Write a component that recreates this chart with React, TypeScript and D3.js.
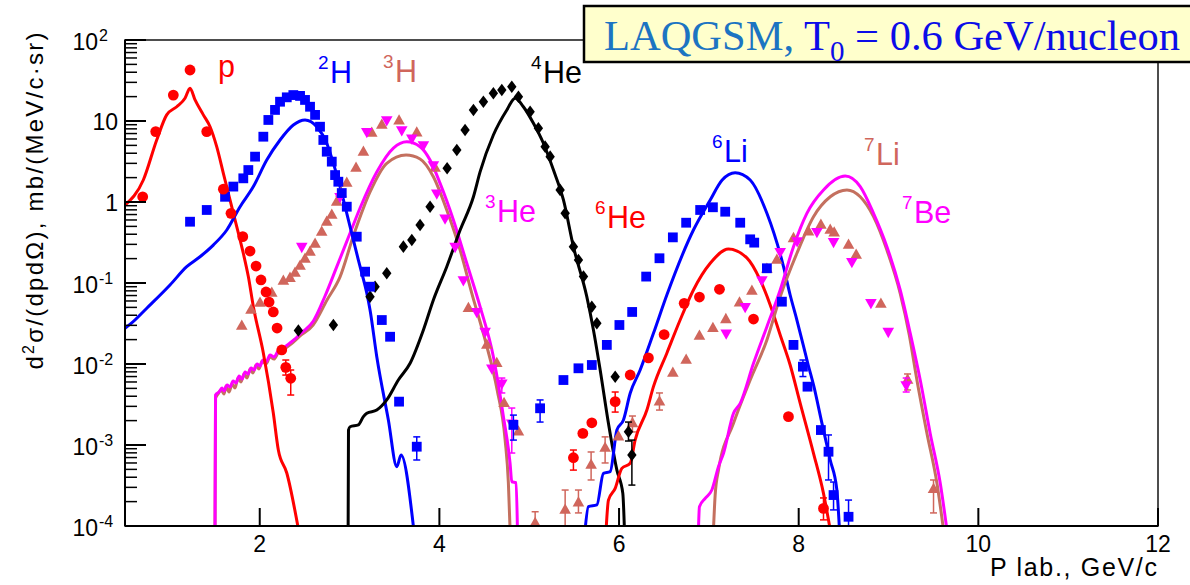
import React from 'react';
import * as d3 from 'd3';

type Pt = [number, number];
type Err = [number, number, number];

// ---- measured spectra: [P lab (GeV/c), d2sigma/dp dOmega (mb/(MeV/c sr))] ----
const protonData: Pt[] = [
  [0.697, 1.16], [0.842, 7.4], [1.038, 20.9], [1.224, 42.6], [1.41, 7.4], [1.595, 1.44],
  [1.68, 0.725], [1.811, 0.373], [1.892, 0.248], [1.959, 0.162], [2.014, 0.109], [2.07, 0.0774],
  [2.104, 0.0582], [2.151, 0.0439], [2.193, 0.0278], [2.245, 0.0149], [2.29, 0.0091], [2.345, 0.00666],
];
const protonErr: Err[] = [[2.29, 0.0073, 0.0112], [2.345, 0.00414, 0.00843]];

const deuteronData: Pt[] = [
  [1.224, 0.571], [1.41, 0.797], [1.614, 1.16], [1.706, 1.55], [1.817, 1.96], [1.873, 2.48],
  [1.948, 3.63], [2.04, 6.4], [2.096, 10.3], [2.17, 13.7], [2.226, 17.3], [2.301, 19.6],
  [2.374, 20.9], [2.449, 20.4], [2.504, 18.2], [2.56, 15.0], [2.616, 11.9], [2.671, 8.5],
  [2.708, 5.83], [2.746, 4.18], [2.802, 3.15], [2.839, 2.15], [2.875, 1.78], [2.913, 1.29],
  [2.969, 0.875], [3.08, 0.373], [3.173, 0.138], [3.228, 0.09], [3.359, 0.0349], [3.451, 0.0217],
  [3.551, 0.00343], [3.748, 0.000953],
];
const deuteronErr: Err[] = [[3.748, 0.000653, 0.00126]];

const tritonData: Pt[] = [
  [1.8, 0.0294], [1.903, 0.0464], [2.003, 0.0566], [2.134, 0.0753], [2.263, 0.106], [2.337, 0.115],
  [2.393, 0.133], [2.449, 0.162], [2.504, 0.198], [2.56, 0.241], [2.616, 0.303], [2.69, 0.426],
  [2.746, 0.567], [2.802, 0.691], [2.857, 1.0], [2.905, 1.29], [2.969, 1.72], [3.072, 2.63],
  [3.154, 4.14], [3.247, 7.11], [3.359, 8.93], [3.551, 10.1], [3.748, 7.17], [3.952, 2.63],
  [4.323, 0.0487], [4.528, 0.0172], [4.639, 0.0102], [4.72, 0.00327], [4.88, 0.00146], [5.066, 0.000108],
];
const tritonErr: Err[] = [[5.066, 0.0001, 0.00015]];

const helium3Data: Pt[] = [
  [2.468, 0.281], [2.894, 1.16], [3.192, 7.38], [3.414, 10.3], [3.581, 7.74], [3.693, 6.11],
  [3.822, 5.05], [3.933, 2.86], [3.971, 1.28], [4.063, 0.629], [4.175, 0.281], [4.267, 0.109],
  [4.416, 0.0442], [4.509, 0.0251], [4.584, 0.00885], [4.695, 0.00578], [4.806, 0.00185],
];
const helium3Err: Err[] = [[4.695, 0.00439, 0.00671], [4.806, 0.000796, 0.00286]];

const helium4Data: Pt[] = [
  [2.43, 0.0259], [2.82, 0.0303], [3.228, 0.0678], [3.284, 0.09], [3.414, 0.132], [3.599, 0.281],
  [3.693, 0.34], [3.785, 0.52], [3.896, 0.875], [4.086, 2.61], [4.194, 4.39], [4.286, 7.74],
  [4.379, 13.7], [4.49, 17.3], [4.601, 22.0], [4.695, 24.1], [4.806, 26.5], [4.88, 19.9],
  [5.01, 13.0], [5.102, 8.13], [5.177, 4.82], [5.233, 3.63], [5.344, 1.41], [5.4, 0.725],
  [5.492, 0.281], [5.548, 0.192], [5.604, 0.12], [5.697, 0.051], [5.753, 0.0318], [5.957, 0.00697],
  [6.105, 0.00146], [6.143, 0.000753],
];
const helium4Err: Err[] = [[6.105, 0.00112, 0.00192], [6.143, 0.00032, 0.00115]];

const helium6Data: Pt[] = [
  [5.492, 0.000697], [5.597, 0.00139], [5.697, 0.00188], [5.957, 0.00343], [6.124, 0.00731],
  [6.327, 0.0119], [6.502, 0.0231], [6.725, 0.0561], [6.895, 0.0671], [7.118, 0.0836],
  [7.497, 0.0359], [7.886, 0.00224], [8.276, 0.000165],
];
const helium6Err: Err[] = [[5.492, 0.00049, 0.000867], [5.957, 0.00255, 0.00451], [8.276, 0.000119, 0.000222]];

const lithium6Data: Pt[] = [
  [4.824, 0.00177], [5.121, 0.00284], [5.381, 0.00634], [5.548, 0.00885], [5.697, 0.00972],
  [5.864, 0.0172], [6.004, 0.0303], [6.146, 0.0439], [6.302, 0.12], [6.45, 0.202], [6.599, 0.366],
  [6.747, 0.555], [6.903, 0.797], [7.045, 0.861], [7.182, 0.759], [7.349, 0.555], [7.46, 0.346],
  [7.505, 0.315], [7.646, 0.152], [7.813, 0.0588], [7.942, 0.0172], [8.047, 0.00927], [8.098, 0.00525],
  [8.247, 0.00153], [8.332, 0.000826], [8.388, 0.000241], [8.555, 0.00013],
];
const lithium6Err: Err[] = [
  [4.824, 0.00115, 0.00234], [5.121, 0.00192, 0.0036], [8.047, 0.007, 0.0112],
  [8.332, 0.00037, 0.00133], [8.388, 0.000158, 0.000349], [8.555, 0.0001, 0.000209],
];

const lithium7Data: Pt[] = [
  [5.4, 0.000158], [5.548, 0.000194], [5.689, 0.000566], [5.845, 0.000918], [5.993, 0.00127],
  [6.149, 0.00185], [6.45, 0.00343], [6.599, 0.00774], [6.747, 0.0112], [6.895, 0.0222],
  [7.045, 0.0276], [7.189, 0.0356], [7.341, 0.0571], [7.479, 0.0796], [7.646, 0.149], [7.757, 0.192],
  [7.942, 0.356], [8.109, 0.43], [8.247, 0.52], [8.351, 0.451], [8.395, 0.418], [8.555, 0.294],
  [8.64, 0.222], [8.915, 0.0551], [9.212, 0.00634], [9.501, 0.000284],
];
const lithium7Err: Err[] = [
  [5.4, 0.0001, 0.000278], [5.548, 0.000145, 0.000278], [5.689, 0.00037, 0.00082],
  [5.845, 0.0006, 0.00126], [6.149, 0.00145, 0.00228], [6.45, 0.0027, 0.00439],
  [9.212, 0.00478, 0.00753], [9.501, 0.000145, 0.00037],
];

const beryllium7Data: Pt[] = [
  [7.193, 0.0239], [7.404, 0.051], [7.59, 0.109], [7.794, 0.243], [7.983, 0.33], [8.203, 0.43],
  [8.388, 0.323], [8.592, 0.183], [8.804, 0.0571], [8.997, 0.0251], [9.197, 0.00551],
];
const beryllium7Err: Err[] = [[9.197, 0.00451, 0.00671]];

// ---- LAQGSM model curves ----
const protonCurve: Pt[] = [
  [0.5, 0.918], [0.704, 1.87], [0.853, 5.83], [0.964, 11.9], [1.076, 15.0], [1.168, 19.1],
  [1.224, 25.3], [1.28, 18.2], [1.372, 11.9], [1.447, 8.5], [1.521, 4.82], [1.595, 2.26],
  [1.669, 1.06], [1.744, 0.496], [1.817, 0.233], [1.873, 0.12], [1.929, 0.051], [2.04, 0.0137],
  [2.151, 0.00248], [2.207, 0.000867], [2.301, 0.000451], [2.44, 0.00008],
];
const deuteronCurve: Pt[] = [
  [0.5, 0.0276], [0.575, 0.0321], [0.745, 0.0491], [1.001, 0.0944], [1.187, 0.159], [1.335, 0.211],
  [1.483, 0.294], [1.633, 0.451], [1.781, 0.875], [1.929, 1.55], [2.078, 3.3], [2.226, 5.83],
  [2.374, 8.93], [2.504, 10.3], [2.635, 8.5], [2.746, 5.31], [2.82, 3.0], [2.894, 1.55],
  [2.969, 0.725], [3.042, 0.34], [3.117, 0.159], [3.192, 0.0746], [3.228, 0.0464], [3.303, 0.0123],
  [3.432, 0.00204], [3.526, 0.00054], [3.573, 0.000753], [3.711, 0.000098],
];
const tritonCurve: Pt[] = [
  [1.502, 0.00009], [1.508, 0.0038], [1.536, 0.00427], [1.569, 0.00478], [1.602, 0.00427],
  [1.625, 0.00535], [1.658, 0.00451], [1.692, 0.00566], [1.725, 0.00506], [1.758, 0.00671],
  [1.792, 0.006], [1.825, 0.00753], [1.859, 0.00671], [1.892, 0.00867], [1.925, 0.00774],
  [1.959, 0.00972], [1.992, 0.00867], [2.026, 0.0109], [2.07, 0.01], [2.115, 0.0122],
  [2.159, 0.0115], [2.204, 0.0137], [2.259, 0.0149], [2.337, 0.0172], [2.449, 0.0222],
  [2.594, 0.0303], [2.749, 0.0617], [2.894, 0.119], [3.042, 0.38], [3.228, 1.33], [3.414, 3.0],
  [3.629, 3.8], [3.785, 3.4], [3.933, 2.05], [4.082, 0.797], [4.231, 0.255], [4.361, 0.0746],
  [4.509, 0.0198], [4.643, 0.00478], [4.732, 0.00115], [4.768, 0.00034], [4.787, 0.00009],
];
const helium3Curve: Pt[] = [
  [1.502, 0.00009], [1.508, 0.00414], [1.547, 0.00451], [1.58, 0.00506], [1.602, 0.00464],
  [1.636, 0.00551], [1.669, 0.0052], [1.703, 0.00617], [1.736, 0.00582], [1.77, 0.00711],
  [1.803, 0.00653], [1.836, 0.00796], [1.87, 0.00753], [1.903, 0.00893], [1.937, 0.00843],
  [1.97, 0.01], [2.003, 0.00944], [2.037, 0.0112], [2.07, 0.0106], [2.115, 0.0129], [2.159, 0.0122],
  [2.204, 0.0145], [2.248, 0.0153], [2.293, 0.0167], [2.337, 0.0182], [2.393, 0.0204],
  [2.449, 0.0235], [2.504, 0.0263], [2.597, 0.034], [2.727, 0.0691], [2.857, 0.158], [3.006, 0.414],
  [3.117, 0.843], [3.303, 2.35], [3.488, 4.64], [3.637, 5.55], [3.785, 4.82], [3.896, 3.3],
  [4.008, 1.7], [4.156, 0.6], [4.305, 0.175], [4.453, 0.051], [4.601, 0.0123], [4.713, 0.00224],
  [4.787, 0.000594], [4.806, 0.000352], [4.854, 0.000344], [4.869, 0.00009],
];
const helium4Curve: Pt[] = [
  [2.984, 0.00009], [2.988, 0.00153], [3.006, 0.00168], [3.098, 0.00177], [3.154, 0.00224],
  [3.192, 0.00246], [3.303, 0.0027], [3.414, 0.0036], [3.543, 0.00634], [3.674, 0.0102],
  [3.822, 0.0263], [3.933, 0.0617], [4.082, 0.159], [4.231, 0.451], [4.379, 1.16], [4.453, 2.35],
  [4.601, 6.72], [4.751, 13.7], [4.843, 19.1], [4.935, 15.0], [5.047, 9.37], [5.158, 5.31],
  [5.27, 2.48], [5.381, 1.06], [5.492, 0.281], [5.641, 0.0678], [5.715, 0.0263], [5.79, 0.00843],
  [5.882, 0.00185], [5.976, 0.00049], [6.042, 0.000253], [6.06, 0.00009],
];
const helium6Curve: Pt[] = [
  [5.856, 0.00009], [5.882, 0.000209], [5.957, 0.000292], [6.031, 0.000515], [6.124, 0.000594],
  [6.179, 0.00115], [6.31, 0.0027], [6.383, 0.00525], [6.532, 0.0136], [6.68, 0.0349],
  [6.828, 0.082], [7.015, 0.175], [7.218, 0.263], [7.423, 0.204], [7.571, 0.109], [7.683, 0.0535],
  [7.794, 0.0228], [7.905, 0.00972], [8.017, 0.00327], [8.165, 0.00079], [8.276, 0.000253],
  [8.351, 0.00009],
];
const lithium6Curve: Pt[] = [
  [5.622, 0.00009], [5.659, 0.000173], [5.753, 0.000182], [5.826, 0.000447], [5.901, 0.000469],
  [5.976, 0.00153], [6.049, 0.00204], [6.124, 0.00435], [6.235, 0.00843], [6.383, 0.0239],
  [6.532, 0.0711], [6.828, 0.451], [7.015, 1.06], [7.148, 1.87], [7.293, 2.3], [7.46, 1.87],
  [7.646, 0.725], [7.831, 0.159], [7.905, 0.0711], [7.98, 0.0349], [8.05, 0.0172], [8.106, 0.00972],
  [8.165, 0.00551], [8.259, 0.00185], [8.351, 0.000653], [8.425, 0.000278], [8.454, 0.00009],
];
const lithium7Curve: Pt[] = [
  [7.051, 0.00009], [7.07, 0.000241], [7.107, 0.00049], [7.274, 0.00185], [7.46, 0.00634],
  [7.646, 0.0198], [7.794, 0.0678], [7.98, 0.233], [8.165, 0.659], [8.351, 1.16], [8.537, 1.41],
  [8.685, 1.16], [8.833, 0.659], [8.982, 0.255], [9.13, 0.0746], [9.231, 0.0228], [9.316, 0.00634],
  [9.428, 0.00139], [9.539, 0.000337], [9.612, 0.00009],
];
const beryllium7Curve: Pt[] = [
  [6.884, 0.00009], [6.895, 0.000173], [6.959, 0.00022], [7.033, 0.000278], [7.107, 0.00054],
  [7.163, 0.00079], [7.274, 0.00246], [7.349, 0.00327], [7.497, 0.0102], [7.646, 0.0289],
  [7.794, 0.082], [7.942, 0.281], [8.091, 0.725], [8.276, 1.41], [8.518, 2.09], [8.685, 1.55],
  [8.833, 0.725], [8.982, 0.281], [9.13, 0.082], [9.242, 0.0239], [9.353, 0.00634], [9.464, 0.00139],
  [9.576, 0.000337], [9.65, 0.00009],
];

// ---- axes ----
const xTicks = [2, 4, 6, 8, 10, 12];
const yDecades = [-4, -3, -2, -1, 0, 1, 2];

const RED = '#ff0000';
const BLUE = '#0000ff';
const MAGENTA = '#ff00ff';
const BLACK = '#000000';
const SALMON = '#d0665c';
const BROWN = '#c4705f';

const SANS = 'Liberation Sans, Arial, Helvetica, sans-serif';
const SERIF = 'Liberation Serif, Times New Roman, serif';

const frame = { left: 125, right: 1158, top: 40, bottom: 526 };
const x = d3.scaleLinear().domain([0.5, 12]).range([frame.left, frame.right]);
const y = d3.scaleLog().domain([1e-4, 100]).range([frame.bottom, frame.top]);

const lineGen = d3
  .line<Pt>()
  .x((d) => x(d[0]))
  .y((d) => y(d[1]))
  .curve(d3.curveMonotoneX);

type Marker = 'circle' | 'square' | 'up' | 'down' | 'diamond';

function markerPath(kind: Marker): string {
  switch (kind) {
    case 'up':
      return 'M0,-6.5L5.8,3.8L-5.8,3.8Z';
    case 'down':
      return 'M0,6.5L5.8,-3.8L-5.8,-3.8Z';
    case 'diamond':
      return 'M0,-6.3L4.7,0L0,6.3L-4.7,0Z';
    case 'square':
      return 'M-4.9,-4.9H4.9V4.9H-4.9Z';
    default:
      return '';
  }
}

const Points: React.FC<{ data: Pt[]; err: Err[]; kind: Marker; color: string }> = ({ data, err, kind, color }) => (
  <g>
    {err.map((e, i) => {
      const cx = x(e[0]);
      const y0 = Math.min(y(e[1]), frame.bottom);
      const y1 = y(e[2]);
      return (
        <g key={`e${i}`} stroke={color} strokeWidth={1.5}>
          <line x1={cx} x2={cx} y1={y0} y2={y1} />
          <line x1={cx - 3.5} x2={cx + 3.5} y1={y0} y2={y0} />
          <line x1={cx - 3.5} x2={cx + 3.5} y1={y1} y2={y1} />
        </g>
      );
    })}
    {data.map((d, i) =>
      kind === 'circle' ? (
        <circle key={i} cx={x(d[0])} cy={y(d[1])} r={5.4} fill={color} />
      ) : (
        <path key={i} transform={`translate(${x(d[0])},${y(d[1])})`} d={markerPath(kind)} fill={color} />
      )
    )}
  </g>
);

const curves: { data: Pt[]; color: string }[] = [
  { data: tritonCurve, color: BROWN },
  { data: helium3Curve, color: MAGENTA },
  { data: protonCurve, color: RED },
  { data: deuteronCurve, color: BLUE },
  { data: helium4Curve, color: BLACK },
  { data: helium6Curve, color: RED },
  { data: lithium6Curve, color: BLUE },
  { data: lithium7Curve, color: BROWN },
  { data: beryllium7Curve, color: MAGENTA },
];

const species: { sup: string; name: string; x: number; y: number; color: string }[] = [
  { sup: '', name: 'p', x: 218, y: 77, color: RED },
  { sup: '2', name: 'H', x: 318, y: 83, color: BLUE },
  { sup: '3', name: 'H', x: 383, y: 82, color: SALMON },
  { sup: '4', name: 'He', x: 531, y: 83, color: BLACK },
  { sup: '3', name: 'He', x: 485, y: 222, color: MAGENTA },
  { sup: '6', name: 'He', x: 595, y: 228, color: RED },
  { sup: '6', name: 'Li', x: 712, y: 162, color: BLUE },
  { sup: '7', name: 'Li', x: 864, y: 165, color: SALMON },
  { sup: '7', name: 'Be', x: 902, y: 223, color: MAGENTA },
];

export default function App() {
  const minorTicks: number[] = [];
  for (let k = -4; k < 2; k++) for (let m = 2; m <= 9; m++) minorTicks.push(m * Math.pow(10, k));

  return (
    <div style={{ position: 'absolute', left: 0, top: 0 }}>
      <svg width={1190} height={585} viewBox="0 0 1190 585" style={{ display: 'block', background: '#fff' }}>
        <defs>
          <clipPath id="plotArea">
            <rect x={frame.left} y={frame.top} width={frame.right - frame.left} height={frame.bottom - frame.top} />
          </clipPath>
        </defs>

        {/* frame */}
        <rect
          x={frame.left}
          y={frame.top}
          width={frame.right - frame.left}
          height={frame.bottom - frame.top}
          fill="none"
          stroke="#222"
          strokeWidth={1.6}
        />

        {/* model curves */}
        <g clipPath="url(#plotArea)" fill="none" strokeWidth={3} strokeLinejoin="round">
          {curves.map((c, i) => (
            <path key={i} d={lineGen(c.data) ?? ''} stroke={c.color} />
          ))}
        </g>

        {/* measured points */}
        <Points data={tritonData} err={tritonErr} kind="up" color={SALMON} />
        <Points data={lithium7Data} err={lithium7Err} kind="up" color={SALMON} />
        <Points data={helium3Data} err={helium3Err} kind="down" color={MAGENTA} />
        <Points data={beryllium7Data} err={beryllium7Err} kind="down" color={MAGENTA} />
        <Points data={helium4Data} err={helium4Err} kind="diamond" color={BLACK} />
        <Points data={deuteronData} err={deuteronErr} kind="square" color={BLUE} />
        <Points data={lithium6Data} err={lithium6Err} kind="square" color={BLUE} />
        <Points data={protonData} err={protonErr} kind="circle" color={RED} />
        <Points data={helium6Data} err={helium6Err} kind="circle" color={RED} />

        {/* axes */}
        <g stroke="#000" strokeWidth={2}>
          <line x1={frame.left} x2={frame.left} y1={frame.top} y2={frame.bottom} />
          <line x1={frame.left} x2={frame.right} y1={frame.bottom} y2={frame.bottom} />
          {yDecades.map((k) => (
            <line key={k} x1={frame.left} x2={frame.left + 21} y1={y(Math.pow(10, k))} y2={y(Math.pow(10, k))} />
          ))}
          {xTicks.map((t) => (
            <line key={t} x1={x(t)} x2={x(t)} y1={frame.bottom} y2={frame.bottom - 18} />
          ))}
        </g>
        <g stroke="#000" strokeWidth={1.5}>
          {minorTicks.map((v, i) => (
            <line key={i} x1={frame.left} x2={frame.left + 12} y1={y(v)} y2={y(v)} />
          ))}
        </g>

        {/* y tick labels */}
        <g fontFamily={SANS} fill="#000">
          {yDecades.map((k) => {
            const ty = y(Math.pow(10, k));
            if (k === 0 || k === 1) {
              return (
                <text key={k} x={118} y={ty + 9} fontSize={23} textAnchor="end">
                  {k === 0 ? '1' : '10'}
                </text>
              );
            }
            return (
              <g key={k}>
                <text x={98} y={ty + 10} fontSize={23} textAnchor="end">
                  10
                </text>
                <text x={99} y={ty + 1} fontSize={16}>
                  {String(k)}
                </text>
              </g>
            );
          })}
        </g>

        {/* x tick labels */}
        <g fontFamily={SANS} fontSize={23} textAnchor="middle" fill="#000">
          {xTicks.map((t) => (
            <text key={t} x={x(t)} y={552}>
              {t}
            </text>
          ))}
        </g>

        {/* axis titles */}
        <text
          x={1157}
          y={576}
          fontFamily={SANS}
          fontSize={25}
          textAnchor="end"
          textLength={167}
          lengthAdjust="spacing"
        >
          P lab., GeV/c
        </text>
        <text
          transform="translate(43,201) rotate(-90)"
          fontFamily={SANS}
          fontSize={24}
          textAnchor="middle"
          textLength={337}
          lengthAdjust="spacing"
        >
          d<tspan fontSize={16} dy={-9}>2</tspan>
          <tspan dy={9}>σ/(dpdΩ), mb/(MeV/c·sr)</tspan>
        </text>

        {/* species labels */}
        <g fontFamily={SANS}>
          {species.map((s, i) => (
            <g key={i} fill={s.color}>
              {s.sup && (
                <text x={s.x} y={s.y - 14} fontSize={19}>
                  {s.sup}
                </text>
              )}
              <text x={s.sup ? s.x + 12 : s.x} y={s.y} fontSize={30.5}>
                {s.name}
              </text>
            </g>
          ))}
        </g>

        {/* title box */}
        <rect x={584} y={6} width={640} height={56} fill="#ffffcc" stroke="#000" strokeWidth={2.5} />
        <text x={604} y={50} fontFamily={SERIF} fontSize={42.5}>
          <tspan fill="#1c74c2">LAQGSM,</tspan>
          <tspan fill="#0c0ce8"> T</tspan>
          <tspan fill="#0c0ce8" fontSize={29} dy={11}>0</tspan>
          <tspan fill="#0c0ce8" dy={-11}> = 0.6 GeV/nucleon</tspan>
        </text>
      </svg>
    </div>
  );
}
